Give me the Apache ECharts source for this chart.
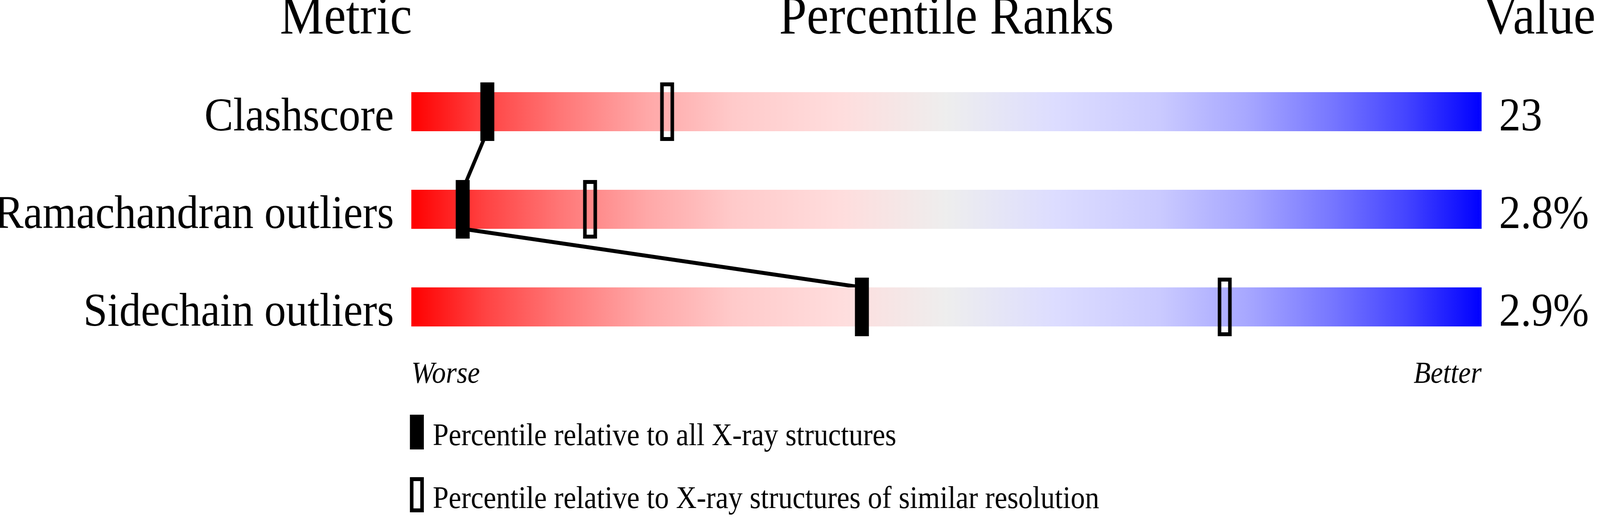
<!DOCTYPE html>
<html>
<head>
<meta charset="utf-8">
<script src="https://cdn.jsdelivr.net/npm/echarts@6/dist/echarts.min.js"></script>
<style>
html,body{margin:0;padding:0;background:#ffffff;overflow:hidden;}
#chart{width:4485px;height:1324px;transform-origin:0 0;}
</style>
</head>
<body>
<div id="chart"></div>
<script>
// ---- data ----
const metrics = ['Clashscore', 'Ramachandran outliers', 'Sidechain outliers'];
const valueLabels = ['23', '2.8%', '2.9%'];
const percentileAll = [7.1, 4.8, 42.1];        // filled markers
const percentileSimilar = [23.9, 16.7, 76.0];  // open markers
const scaleEnds = ['Worse', 'Better'];
const headers = ['Metric', 'Percentile Ranks', 'Value'];
const legendLabels = [
  'Percentile relative to all X-ray structures',
  'Percentile relative to X-ray structures of similar resolution'
];

// ---- layout / styles ----
const DESIGN_W = 4485, DESIGN_H = 1324;
const el = document.getElementById('chart');
// the viewport may be narrower than the design width: fit the design horizontally
const fitX = Math.min(1, window.innerWidth / DESIGN_W);
el.style.transform = 'scaleX(' + fitX + ')';

const FONT = '"Liberation Serif", "Times New Roman", Times, serif';
const BAR_H = 100, MK_W = 39, MK_H = 150, BORDER = 10, LINK_W = 10;
const gradientStops = [
  [0, '#ff0000'], [0.07, '#ff4444'], [0.14, '#ff7777'], [0.22, '#ffa8a8'],
  [0.26, '#ffb8b8'], [0.30, '#ffcaca'], [0.40, '#ffdddd'], [0.50, '#eeeeee'],
  [0.60, '#ddddff'], [0.70, '#cacaff'], [0.74, '#b8b8ff'], [0.78, '#a8a8ff'],
  [0.86, '#7777ff'], [0.93, '#4444ff'], [1, '#0000ff']
];

const chart = echarts.init(el);

function renderItem(params, api) {
  const i = params.dataIndex;
  const l = api.coord([0, i]);
  const r = api.coord([100, i]);
  const cy = l[1];
  const children = [];
  children.push({
    type: 'rect',
    shape: { x: l[0], y: cy - BAR_H / 2, width: r[0] - l[0], height: BAR_H },
    style: {
      fill: new echarts.graphic.LinearGradient(0, 0, 1, 0,
        gradientStops.map(s => ({ offset: s[0], color: s[1] })))
    }
  });
  if (i < metrics.length - 1) {
    const a = api.coord([percentileAll[i], i]);
    const b = api.coord([percentileAll[i + 1], i + 1]);
    children.push({
      type: 'line',
      shape: { x1: a[0], y1: a[1] + BAR_H / 2, x2: b[0], y2: b[1] - BAR_H / 2 },
      style: { stroke: '#000', lineWidth: LINK_W }
    });
  }
  const s = api.coord([percentileSimilar[i], i]);
  children.push({
    type: 'rect',
    shape: { x: s[0] - MK_W / 2 + BORDER / 2, y: cy - MK_H / 2 + BORDER / 2,
             width: MK_W - BORDER, height: MK_H - BORDER },
    style: { fill: 'none', stroke: '#000', lineWidth: BORDER }
  });
  const p = api.coord([percentileAll[i], i]);
  children.push({
    type: 'rect',
    shape: { x: p[0] - MK_W / 2, y: cy - MK_H / 2, width: MK_W, height: MK_H },
    style: { fill: '#000' }
  });
  return { type: 'group', children: children };
}

function txt(x, y, text, size, align) {
  return {
    type: 'text', x: x, y: y, silent: true,
    style: {
      text: text, fill: '#000', fontSize: size, fontFamily: FONT,
      align: align, verticalAlign: 'middle',
      textAlign: align, textVerticalAlign: 'middle'
    }
  };
}

const rowLabel = {
  fontSize: 121, fontFamily: FONT, color: '#000', margin: 49,
  lineHeight: 32, verticalAlign: 'top'
};

const option = {
  backgroundColor: '#ffffff',
  animation: false,
  grid: { left: 1153, right: 332, top: 161, height: 750, containLabel: false, outerBoundsMode: 'none' },
  xAxis: {
    type: 'value', min: 0, max: 100, interval: 100,
    axisLine: { show: false }, axisTick: { show: false }, splitLine: { show: false },
    axisLabel: {
      formatter: v => (v === 0 ? scaleEnds[0] : (v === 100 ? scaleEnds[1] : '')),
      fontFamily: FONT, fontStyle: 'italic', fontSize: 78, color: '#000',
      margin: 48, verticalAlign: 'middle',
      showMinLabel: true, showMaxLabel: true,
      alignMinLabel: 'left', alignMaxLabel: 'right'
    }
  },
  yAxis: [
    {
      type: 'category', data: metrics, inverse: true,
      axisLine: { show: false }, axisTick: { show: false }, splitLine: { show: false },
      axisLabel: Object.assign({}, rowLabel)
    },
    {
      type: 'category', data: valueLabels, inverse: true, position: 'right',
      axisLine: { show: false }, axisTick: { show: false }, splitLine: { show: false },
      axisLabel: Object.assign({}, rowLabel)
    }
  ],
  graphic: [
    txt(1155, 49, headers[0], 139, 'right'),
    txt(2653, 49, headers[1], 139, 'center'),
    txt(4156, 49, headers[2], 139, 'left'),
    { type: 'rect', silent: true, shape: { x: 1149, y: 1062, width: MK_W, height: 89 }, style: { fill: '#000' } },
    { type: 'rect', silent: true,
      shape: { x: 1149 + BORDER / 2, y: 1222 + BORDER / 2, width: MK_W - BORDER, height: 90 - BORDER },
      style: { fill: 'none', stroke: '#000', lineWidth: BORDER } },
    txt(1213, 1119, legendLabels[0], 80, 'left'),
    txt(1213, 1280, legendLabels[1], 80, 'left')
  ],
  series: [{
    type: 'custom',
    coordinateSystem: 'cartesian2d',
    xAxisIndex: 0, yAxisIndex: 0,
    clip: false,
    renderItem: renderItem,
    encode: { x: [0, 2], y: 1 },
    data: metrics.map((m, i) => [percentileAll[i], i, percentileSimilar[i]])
  }]
};
chart.setOption(option);
</script>
</body>
</html>
